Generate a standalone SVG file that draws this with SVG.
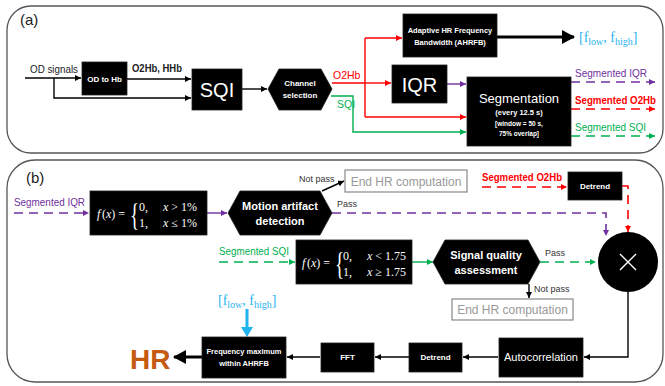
<svg xmlns="http://www.w3.org/2000/svg" width="665" height="386" viewBox="0 0 665 386">
<style>
text{font-family:"Liberation Sans","Open Sans",sans-serif}
.panel{fill:#fff;stroke:#555;stroke-width:1.3}
.box{fill:#000;stroke:#222;stroke-width:0.8}
.wt{fill:#fff;font-weight:bold;text-anchor:middle}
.wn{fill:#fff;text-anchor:middle}
.blk{stroke:#000;stroke-width:1.4;fill:none}
.red{stroke:#ff0000;stroke-width:1.4;fill:none}
.pur{stroke:#7030a0;stroke-width:1.4;fill:none}
.grn{stroke:#00b050;stroke-width:1.4;fill:none}
.dash{stroke-dasharray:9 6;stroke-width:1.6}
.lblr{fill:#ff0000;font-size:10.5px}
.lblp{fill:#7030a0;font-size:10.5px}
.lblg{fill:#00b050;font-size:10.5px}
.end{fill:#fff;stroke:#888;stroke-width:1.2}
.endt{fill:#999;font-size:12px;text-anchor:middle}
.small{fill:#333;font-size:9px}
.fx{font-family:"Liberation Serif",serif;fill:#fff;font-size:12px}
.br{font-family:"Liberation Serif",serif;fill:#fff;font-size:32px}
.cy{font-family:"Liberation Serif",serif;fill:#1fb3f0;font-size:14px}
</style>
<defs>
<marker id="ak" markerUnits="userSpaceOnUse" markerWidth="8" markerHeight="8" refX="6" refY="3" orient="auto"><path d="M0,0 L6,3 L0,6 z" fill="#000"/></marker>
<marker id="ar" markerUnits="userSpaceOnUse" markerWidth="8" markerHeight="8" refX="6" refY="3" orient="auto"><path d="M0,0 L6,3 L0,6 z" fill="#ff0000"/></marker>
<marker id="ap" markerUnits="userSpaceOnUse" markerWidth="8" markerHeight="8" refX="6" refY="3" orient="auto"><path d="M0,0 L6,3 L0,6 z" fill="#7030a0"/></marker>
<marker id="ag" markerUnits="userSpaceOnUse" markerWidth="8" markerHeight="8" refX="6" refY="3" orient="auto"><path d="M0,0 L6,3 L0,6 z" fill="#00b050"/></marker>
<marker id="akb" markerUnits="userSpaceOnUse" markerWidth="16" markerHeight="16" refX="12" refY="7" orient="auto"><path d="M0,0 L13,7 L0,14 z" fill="#000"/></marker>
</defs>

<rect class="panel" x="7" y="6" width="656" height="147" rx="24"/>
<rect class="panel" x="7" y="160" width="656" height="222" rx="28"/>
<text x="20" y="25" font-size="15" fill="#222">(a)</text>
<text x="26" y="183" font-size="15" fill="#222">(b)</text>

<g id="connectors">
<path class="blk" d="M25,78 H81" marker-end="url(#ak)"/>
<path class="blk" d="M54,78 V98 H191" marker-end="url(#ak)"/>
<path class="blk" d="M127,79 H191" marker-end="url(#ak)"/>
<path class="blk" d="M242,89 H267" marker-end="url(#ak)"/>
<path class="red" d="M332,83 H365 M365,38 V117"/>
<path class="red" d="M365,38 H402" marker-end="url(#ar)"/>
<path class="red" d="M365,83 H391" marker-end="url(#ar)"/>
<path class="red" d="M365,117 H466" marker-end="url(#ar)"/>
<path class="pur" d="M447,84 H466" marker-end="url(#ap)"/>
<path class="grn" d="M331,96 H353 V132 H466" marker-end="url(#ag)"/>
<path d="M497,37 H574" stroke="#000" stroke-width="3" fill="none" marker-end="url(#akb)"/>
<path class="pur dash" d="M571,82 H655" marker-end="url(#ap)"/>
<path class="red dash" d="M571,109 H655" marker-end="url(#ar)"/>
<path class="grn dash" d="M571,136 H655" marker-end="url(#ag)"/>
<path class="pur dash" d="M14,213 H89" marker-end="url(#ap)"/>
<path class="pur" d="M207,213 H227" marker-end="url(#ap)"/>
<path class="blk" stroke-width="1.2" d="M322,191 L344,181" marker-end="url(#ak)"/>
<path class="pur dash" d="M332,213 H606 V236" marker-end="url(#ap)"/>
<path class="red dash" d="M482,187 H567" marker-end="url(#ar)"/>
<path class="red dash" d="M622,186 H628 V232" marker-end="url(#ar)"/>
<path class="grn dash" d="M219,262 H295" marker-end="url(#ag)"/>
<path class="grn" d="M412,262 H433" marker-end="url(#ag)"/>
<path class="grn dash" d="M540,262 H596" marker-end="url(#ag)"/>
<path class="blk" stroke-width="1.2" d="M529,284 V298" marker-end="url(#ak)"/>
<path class="blk" stroke="#333" d="M628,292 V357 H584" marker-end="url(#ak)"/>
<path class="blk" d="M498,357 H463" marker-end="url(#ak)"/>
<path class="blk" d="M409,357 H375" marker-end="url(#ak)"/>
<path class="blk" d="M320,357 H287" marker-end="url(#ak)"/>
<path d="M202,357 H174" stroke="#000" stroke-width="3" fill="none" marker-end="url(#akb)"/>
<path d="M247,309 V328" stroke="#1fb3f0" stroke-width="3" fill="none"/>
<path d="M241,327 L253,327 L247,337 z" fill="#1fb3f0"/>
</g>

<text x="30" y="73" font-size="10.5" fill="#222" textLength="48" lengthAdjust="spacingAndGlyphs">OD signals</text>
<text x="132" y="72" font-size="10.5" fill="#222" font-weight="bold" textLength="50" lengthAdjust="spacingAndGlyphs">O2Hb, HHb</text>
<text x="333" y="79" class="lblr">O2Hb</text>
<text x="337" y="108" class="lblg">SQI</text>
<text x="575" y="77" class="lblp" textLength="72" lengthAdjust="spacingAndGlyphs">Segmented IQR</text>
<text x="575" y="104" class="lblr" font-weight="bold" textLength="81" lengthAdjust="spacingAndGlyphs">Segmented O2Hb</text>
<text x="575" y="131" class="lblg" textLength="71" lengthAdjust="spacingAndGlyphs">Segmented SQI</text>
<text class="cy" x="579" y="42">[f<tspan font-size="10" dy="3">low</tspan><tspan dy="-3">, f</tspan><tspan font-size="10" dy="3">high</tspan><tspan dy="-3">]</tspan></text>

<g id="odtohb"><rect class="box" x="82" y="62" width="45" height="33"/><text class="wt" x="104.5" y="82" font-size="8">OD to Hb</text></g>
<g id="sqi"><rect class="box" x="192" y="69" width="50" height="41"/><text class="wn" x="217" y="97" font-size="20">SQI</text></g>
<g id="channel"><polygon class="box" points="268,89 279,69 321,69 332,89 321,110 279,110"/><text class="wt" x="300" y="86" font-size="8">Channel</text><text class="wt" x="300" y="98" font-size="8">selection</text></g>
<g id="ahrfb"><rect class="box" x="403" y="14" width="94" height="43"/><text class="wt" x="450" y="33" font-size="7.5">Adaptive HR Frequency</text><text class="wt" x="450" y="45" font-size="7.5">Bandwidth (AHRFB)</text></g>
<g id="iqr"><rect class="box" x="392" y="65" width="55" height="38"/><text class="wn" x="419.5" y="92" font-size="20">IQR</text></g>
<g id="segmentation"><rect class="box" x="467" y="77" width="104" height="69"/><text class="wn" x="519" y="103" font-size="13">Segmentation</text><text class="wt" x="519" y="115" font-size="7.5">(every 12.5 s)</text><text class="wt" x="519" y="126" font-size="6.5">[window = 50 s,</text><text class="wt" x="519" y="136" font-size="6.5">75% overlap]</text></g>

<text x="14" y="206" class="lblp" textLength="71" lengthAdjust="spacingAndGlyphs">Segmented IQR</text>
<g id="f1"><rect class="box" x="90" y="191" width="117" height="44"/>
<text class="fx" x="97" y="218" font-style="italic">f</text><text class="fx" x="102" y="218">(<tspan font-style="italic">x</tspan>) =</text>
<text class="br" x="0" y="0" transform="translate(130 226) scale(0.6 1)">{</text>
<text class="fx" x="139" y="211">0,</text><text class="fx" x="139" y="227">1,</text>
<text class="fx" x="163" y="211"><tspan font-style="italic">x</tspan> &gt; 1%</text><text class="fx" x="163" y="227"><tspan font-style="italic">x</tspan> ≤ 1%</text></g>
<g id="motion"><polygon class="box" points="228,213 240,191 320,191 332,213 320,235 240,235"/><text class="wt" x="280" y="210" font-size="11">Motion artifact</text><text class="wt" x="280" y="225" font-size="11">detection</text></g>
<text x="299" y="182" class="small">Not pass</text>
<text x="337" y="207" class="small">Pass</text>
<g id="end1"><rect class="end" x="345" y="170" width="122" height="22"/><text class="endt" x="406" y="185.5">End HR computation</text></g>
<text x="482" y="181" class="lblr" font-weight="bold" textLength="80" lengthAdjust="spacingAndGlyphs">Segmented O2Hb</text>
<g id="detrend1"><rect class="box" x="568" y="172" width="54" height="28"/><text class="wt" x="595" y="189" font-size="8">Detrend</text></g>
<g id="multiply"><circle cx="628" cy="262" r="30" fill="#000"/><path d="M620,254 L636,270 M636,254 L620,270" stroke="#fff" stroke-width="1.4"/></g>
<text x="219" y="255" class="lblg" textLength="70" lengthAdjust="spacingAndGlyphs">Segmented SQI</text>
<g id="f2"><rect class="box" x="296" y="240" width="116" height="44"/>
<text class="fx" x="302" y="267" font-style="italic">f</text><text class="fx" x="307" y="267">(<tspan font-style="italic">x</tspan>) =</text>
<text class="br" x="0" y="0" transform="translate(335 275) scale(0.6 1)">{</text>
<text class="fx" x="343" y="260">0,</text><text class="fx" x="343" y="276">1,</text>
<text class="fx" x="367" y="260"><tspan font-style="italic">x</tspan> &lt; 1.75</text><text class="fx" x="367" y="276"><tspan font-style="italic">x</tspan> ≥ 1.75</text></g>
<g id="sqa"><polygon class="box" points="433,262 445,240 528,240 540,262 528,284 445,284"/><text class="wt" x="486" y="259" font-size="11">Signal quality</text><text class="wt" x="486" y="274" font-size="11">assessment</text></g>
<text x="545" y="256" class="small">Pass</text>
<text x="534" y="292" class="small">Not pass</text>
<g id="end2"><rect class="end" x="452" y="299" width="121" height="21"/><text class="endt" x="512.5" y="314">End HR computation</text></g>
<g id="autocorr"><rect class="box" x="499" y="338" width="84" height="39"/><text class="wn" x="541" y="361" font-size="11">Autocorrelation</text></g>
<g id="detrend2"><rect class="box" x="409" y="343" width="53" height="29"/><text class="wt" x="435.5" y="360" font-size="8">Detrend</text></g>
<g id="fft"><rect class="box" x="321" y="343" width="53" height="29"/><text class="wt" x="347.5" y="360" font-size="8">FFT</text></g>
<g id="freqmax"><rect class="box" x="202" y="337" width="84" height="41"/><text class="wt" x="244" y="354" font-size="7.5">Frequency maximum</text><text class="wt" x="244" y="366" font-size="7.5">within AHRFB</text></g>
<text class="cy" x="218" y="305">[f<tspan font-size="10" dy="3">low</tspan><tspan dy="-3">, f</tspan><tspan font-size="10" dy="3">high</tspan><tspan dy="-3">]</tspan></text>
<g id="hr"><text x="130" y="369" font-size="28" font-weight="bold" fill="#c55a11">HR</text></g>
</svg>
